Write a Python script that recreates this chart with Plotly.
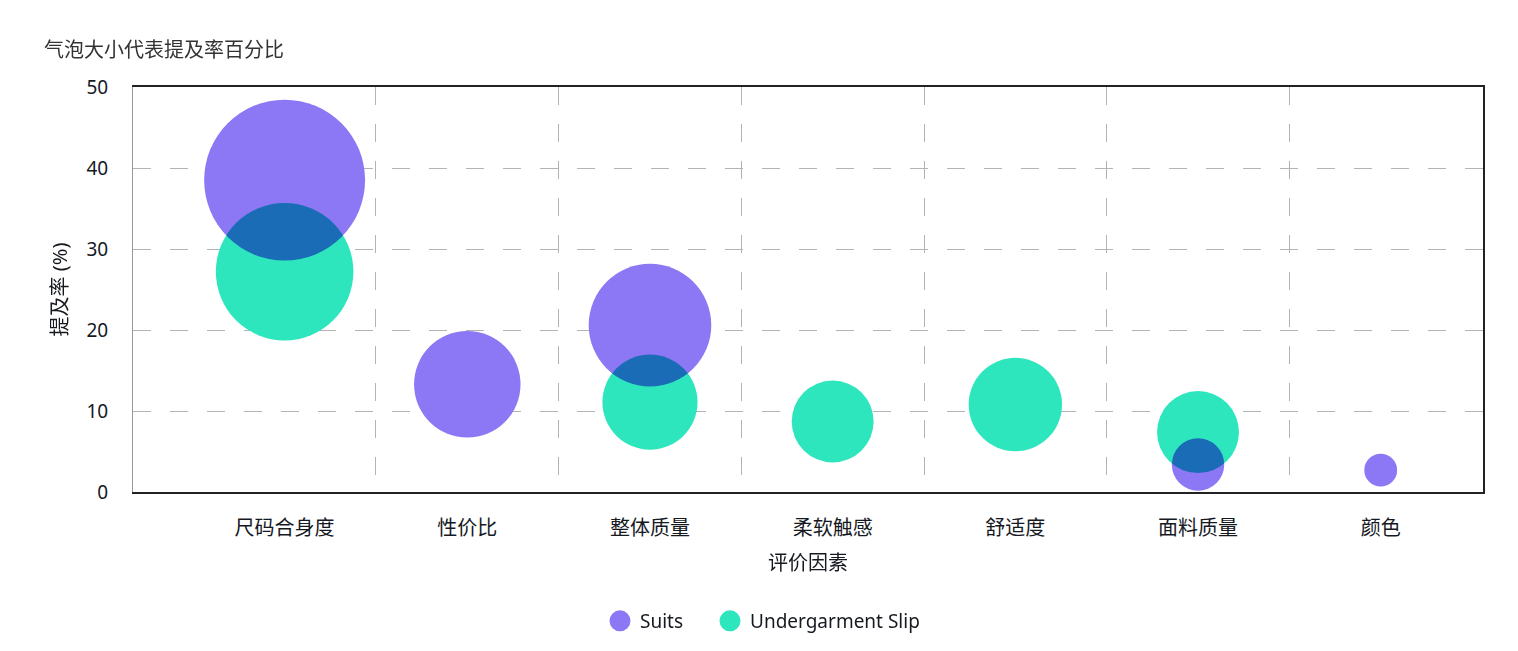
import math
import plotly.graph_objects as go

# 评价因素（x 轴类别）
categories = ['尺码合身度', '性价比', '整体质量', '柔软触感', '舒适度', '面料质量', '颜色']

# 提及率 (%) —— y 值，None 表示该品类没有这个因素
suits_rate = [38.5, 13.3, 20.6, None, None, 3.4, 2.7]
slip_rate = [27.2, None, 11.1, 8.7, 10.8, 7.4, None]

# 气泡大小（提及率百分比，按面积映射）
suits_size = [38.6, 16.9, 22.4, None, None, 4.1, 1.6]
slip_size = [28.2, None, 13.5, 10.0, 13.0, 10.0, None]

y_ticks = [0, 10, 20, 30, 40, 50]

PURPLE = '#8C78F5'
TEAL = '#2EE6BE'
FONT = 'Noto Sans, Noto Sans CJK SC, sans-serif'
BUBBLE_K = 25.9  # 直径(px) = K * sqrt(size)


def points(rates, sizes):
    xs, ys, ds = [], [], []
    for i, (r, s) in enumerate(zip(rates, sizes)):
        if r is None:
            continue
        xs.append(i)
        ys.append(r)
        ds.append(BUBBLE_K * math.sqrt(s))
    return xs, ys, ds


fig = go.Figure()

series = [('Suits', suits_rate, suits_size, PURPLE, 'legend'),
          ('Undergarment Slip', slip_rate, slip_size, TEAL, 'legend2')]
for name, rates, sizes, color, leg in series:
    xs, ys, ds = points(rates, sizes)
    fig.add_trace(go.Scatter(
        x=xs, y=ys, mode='markers', name=name, showlegend=False,
        marker=dict(size=ds, sizemode='diameter', color=color, opacity=1,
                    line=dict(width=0)),
        hovertext=[categories[i] for i in xs],
    ))
    # 图例用的点（放大一点）
    fig.add_trace(go.Scatter(
        x=[None], y=[None], mode='markers', name=name, legend=leg,
        marker=dict(size=16, color=color, line=dict(width=5, color=color)),
    ))

# 第二条 x 轴只用来画类别之间的竖虚线
fig.add_trace(go.Scatter(x=[None], y=[None], xaxis='x2', yaxis='y2',
                         showlegend=False, hoverinfo='skip'))

x_range = [-0.83, 6.56]
grid = dict(gridcolor='#b3b3b3', gridwidth=1.3, griddash='18px,19px')
leg_common = dict(orientation='h', xref='container', xanchor='left',
                  yref='container', y=1 - 621 / 651, yanchor='middle',
                  font=dict(size=19), itemclick=False, bgcolor='rgba(0,0,0,0)')

fig.update_layout(
    width=1518, height=651,
    margin=dict(l=133, r=35, t=87, b=159),
    paper_bgcolor='white', plot_bgcolor='white',
    font=dict(family=FONT, size=19, color='#16191f'),
    title=dict(text='气泡大小代表提及率百分比', xref='container', x=44 / 1518,
               xanchor='left', yref='container', y=1 - 50 / 651, yanchor='middle',
               font=dict(size=20, color='#333')),
    xaxis=dict(range=x_range, tickvals=list(range(len(categories))), ticktext=categories,
               showgrid=False, zeroline=False, showline=True, linecolor='#222',
               linewidth=1.8, mirror=True, ticks='', ticklabelstandoff=17,
               tickfont=dict(size=20),
               title=dict(text='评价因素', standoff=16, font=dict(size=20))),
    xaxis2=dict(range=x_range, overlaying='x', tickvals=[i + 0.5 for i in range(len(categories) - 1)],
                showticklabels=False, ticks='', showline=False, zeroline=False, **grid),
    yaxis=dict(range=[0, 50], tickvals=y_ticks, showgrid=True, zeroline=False,
               showline=True, linecolor='#999', linewidth=1, ticks='',
               ticklabelstandoff=20, **grid,
               title=dict(text='提及率 (%)', standoff=13, font=dict(size=20))),
    yaxis2=dict(range=[0, 50], overlaying='y', side='right', showticklabels=False,
                showgrid=False, zeroline=False, showline=True, linecolor='#222',
                linewidth=1.8, ticks=''),
    legend=dict(x=600 / 1518, **leg_common),
    legend2=dict(x=710 / 1518, **leg_common),
)

post = """
var s = document.createElement('style');
s.textContent = 'body{margin:0} .scatterlayer .trace{mix-blend-mode:multiply}';
document.head.appendChild(s);
"""
fig.write_html('out.html', post_script=post, config={'displayModeBar': False})
